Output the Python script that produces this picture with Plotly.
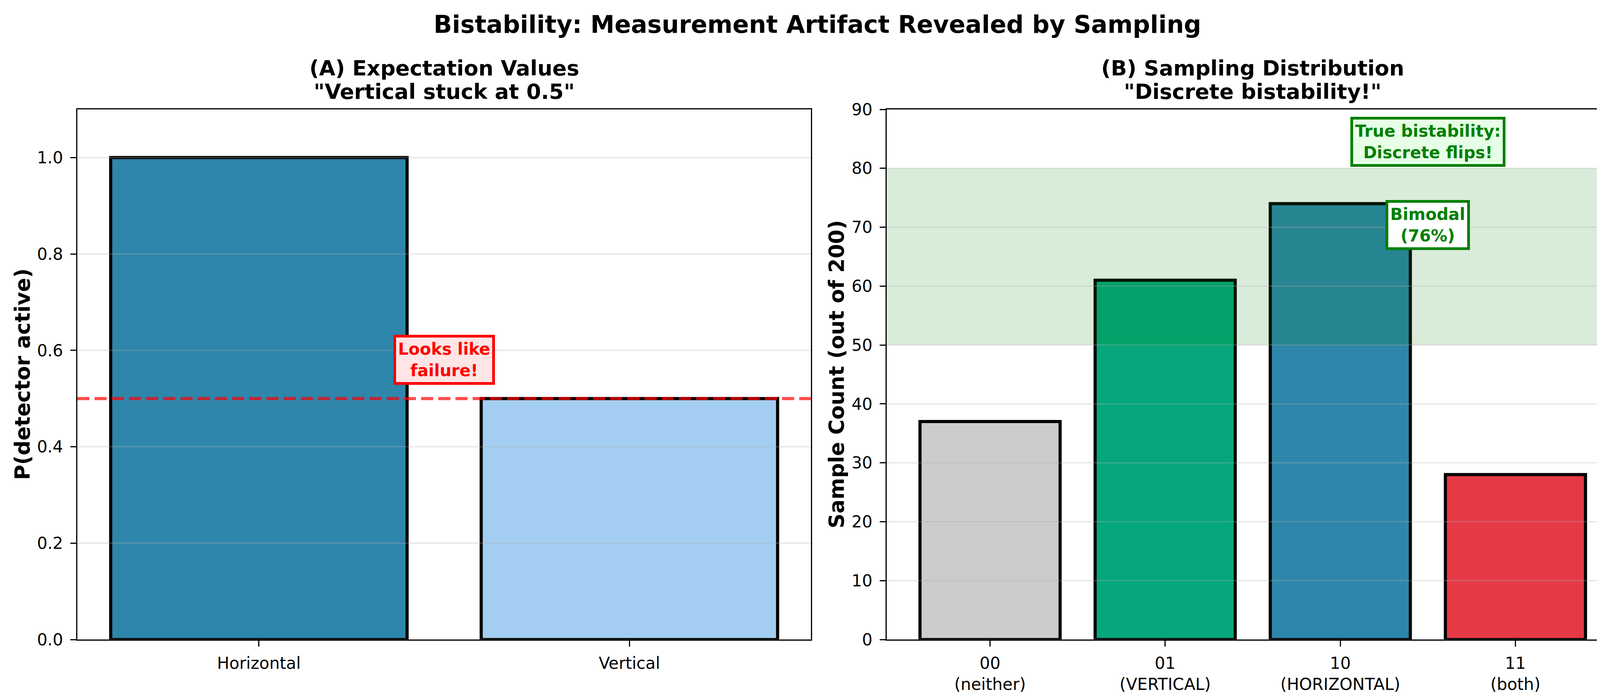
import plotly.graph_objects as go

# ---------------- data ----------------
left_categories = ["Horizontal", "Vertical"]
left_values = [1.0, 0.5]
left_colors = ["#2E86AB", "#A3CEF1"]
left_threshold = 0.5
left_yticks = [0.0, 0.2, 0.4, 0.6, 0.8, 1.0]

right_categories = ["00<br>(neither)", "01<br>(VERTICAL)", "10<br>(HORIZONTAL)", "11<br>(both)"]
right_values = [37, 61, 74, 28]
right_colors = ["#CCCCCC", "#06A77D", "#2E86AB", "#E63946"]
right_band = [50, 80]
right_yticks = [0, 10, 20, 30, 40, 50, 60, 70, 80, 90]

# ---------------- geometry ----------------
W, H = 4168, 1779
FONT = "DejaVu Sans"
ax_left = [190 / W, 2068 / W]
ax_right = [2262 / W, 4136 / W]
ax_y = [(H - 1629) / H, (H - 272) / H]

fig = go.Figure()

fig.add_trace(go.Bar(
    x=left_categories, y=left_values, width=0.8,
    marker=dict(color=left_colors, line=dict(color="black", width=8)),
    xaxis="x", yaxis="y", showlegend=False, hoverinfo="skip",
))
fig.add_trace(go.Bar(
    x=right_categories, y=right_values, width=0.8,
    marker=dict(color=right_colors, line=dict(color="black", width=8)),
    xaxis="x2", yaxis="y2", showlegend=False, hoverinfo="skip",
))

axis_common = dict(
    showline=True, mirror=True, linecolor="black", linewidth=3.3,
    ticks="outside", ticklen=15, tickwidth=3.3, tickcolor="black",
    tickfont=dict(family=FONT, size=42, color="black"),
    showgrid=False, zeroline=False, automargin=False,
)

fig.update_layout(
    width=W, height=H,
    margin=dict(l=0, r=0, t=0, b=0, pad=0, autoexpand=False),
    paper_bgcolor="white", plot_bgcolor="white",
    font=dict(family=FONT, color="black"),
    xaxis=dict(domain=ax_left, anchor="y", type="category", range=[-0.49, 1.49],
               ticklabelstandoff=6, **axis_common),
    yaxis=dict(domain=ax_y, anchor="x", range=[0, 1.1], tickvals=left_yticks,
               tickformat=".1f", ticklabelstandoff=10, **axis_common),
    xaxis2=dict(domain=ax_right, anchor="y2", type="category", range=[-0.59, 3.59],
                ticklabelstandoff=6, **axis_common),
    yaxis2=dict(domain=ax_y, anchor="x2", range=[0, 90], tickvals=right_yticks,
                ticklabelstandoff=10, **axis_common),
)

shapes = []
# green band (drawn above bars like matplotlib axhspan)
shapes.append(dict(type="rect", xref="x2 domain", yref="y2", x0=0, x1=1,
                   y0=right_band[0], y1=right_band[1],
                   fillcolor="rgba(0,128,0,0.15)", line=dict(width=0), layer="above"))
# grid lines (above bars)
grid_color = "rgba(176,176,176,0.3)"
for t in left_yticks:
    shapes.append(dict(type="line", xref="x domain", yref="y", x0=0, x1=1, y0=t, y1=t,
                       line=dict(color=grid_color, width=3.3), layer="above"))
for t in right_yticks:
    shapes.append(dict(type="line", xref="x2 domain", yref="y2", x0=0, x1=1, y0=t, y1=t,
                       line=dict(color=grid_color, width=3.3), layer="above"))
# dashed threshold line
shapes.append(dict(type="line", xref="x domain", yref="y", x0=0, x1=1,
                   y0=left_threshold, y1=left_threshold,
                   line=dict(color="rgba(255,0,0,0.7)", width=8, dash="31px,13px"), layer="above"))
fig.update_layout(shapes=shapes)

ann = []
# suptitle
ann.append(dict(text="<b>Bistability: Measurement Artifact Revealed by Sampling</b>",
                xref="paper", yref="paper", x=0.5, y=1 - 54 / H, xanchor="center", yanchor="middle",
                showarrow=False, font=dict(family=FONT, size=62, color="black")))
# subplot titles (two lines each)
for dom, l1, l2 in [(ax_left, "(A) Expectation Values", '"Vertical stuck at 0.5"'),
                    (ax_right, "(B) Sampling Distribution", '"Discrete bistability!"')]:
    cx = (dom[0] + dom[1]) / 2
    ann.append(dict(text=f"<b>{l1}</b>", xref="paper", yref="paper", x=cx, y=1 - 166 / H,
                    xanchor="center", yanchor="middle", showarrow=False,
                    font=dict(family=FONT, size=54, color="black")))
    ann.append(dict(text=f"<b>{l2}</b>", xref="paper", yref="paper", x=cx, y=1 - 227 / H,
                    xanchor="center", yanchor="middle", showarrow=False,
                    font=dict(family=FONT, size=54, color="black")))
# y-axis labels
ymid = (ax_y[0] + ax_y[1]) / 2
ann.append(dict(text="<b>P(detector active)</b>", xref="paper", yref="paper", x=49 / W, y=ymid,
                xanchor="center", yanchor="middle", textangle=-90, showarrow=False,
                font=dict(family=FONT, size=53, color="black")))
ann.append(dict(text="<b>Sample Count (out of 200)</b>", xref="paper", yref="paper", x=2133 / W, y=ymid,
                xanchor="center", yanchor="middle", textangle=-90, showarrow=False,
                font=dict(family=FONT, size=53, color="black")))
# in-plot annotations
ann.append(dict(text="<b>Looks like<br>failure!</b>", xref="x", yref="y", x=0.5, y=0.58,
                xanchor="center", yanchor="middle", showarrow=False,
                font=dict(family=FONT, size=42, color="red"),
                bgcolor="#FFE5E5", bordercolor="red", borderwidth=7, borderpad=5))
ann.append(dict(text="<b>True bistability:<br>Discrete flips!</b>", xref="x2", yref="y2", x=2.5, y=84.5,
                xanchor="center", yanchor="middle", showarrow=False,
                font=dict(family=FONT, size=42, color="green"),
                bgcolor="#E6FFE6", bordercolor="green", borderwidth=7, borderpad=5))
ann.append(dict(text="<b>Bimodal<br>(76%)</b>", xref="x2", yref="y2", x=2.5, y=70.4,
                xanchor="center", yanchor="middle", showarrow=False,
                font=dict(family=FONT, size=42, color="green"),
                bgcolor="white", bordercolor="green", borderwidth=7, borderpad=5))
fig.update_layout(annotations=ann)

fig.write_html("out.html")
